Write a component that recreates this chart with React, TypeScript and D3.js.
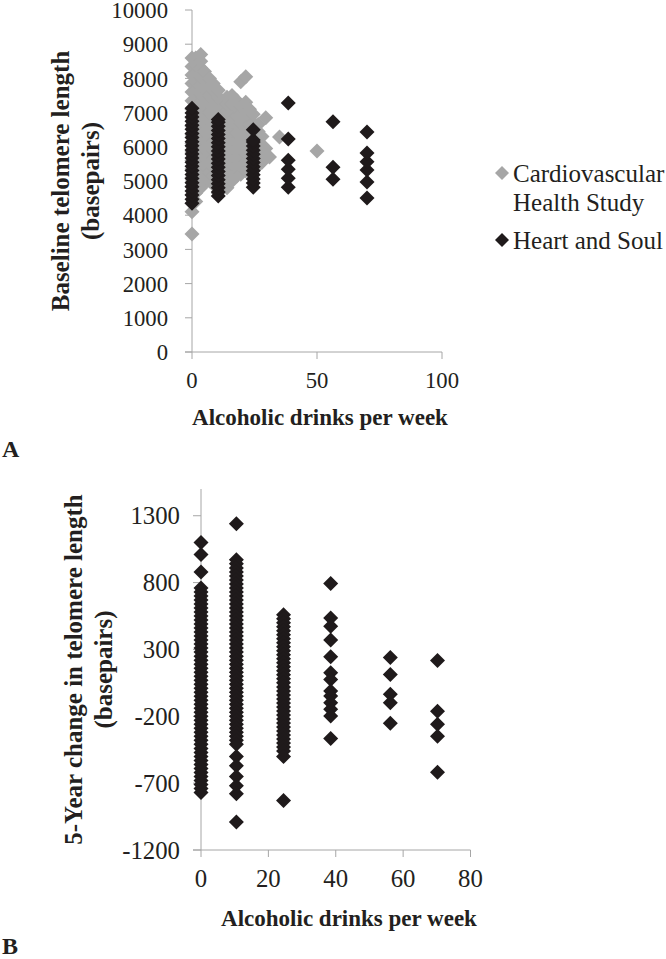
import React from 'react';
import * as d3 from 'd3';

// ---------- DATA ----------
// Panel A: baseline telomere length (bp) vs alcoholic drinks/week
const chsColumns: [number, number[]][] = [
  [0, [3450, 4100, 4350, 4600, 4850, 5100, 5350, 5600, 5850, 6100, 6350, 6600, 6850, 7100, 7350, 7600, 7850, 8100, 8350, 8600]],
  [1.5, [4400, 4650, 4900, 5150, 5400, 5650, 5900, 6150, 6400, 6650, 6900, 7150, 7400, 7650, 7900, 8150, 8400, 8600]],
  [3.5, [4800, 5050, 5300, 5550, 5800, 6050, 6300, 6550, 6800, 7050, 7300, 7550, 7800, 8050, 8300, 8500, 8700]],
  [5, [4950, 5200, 5450, 5700, 5950, 6200, 6450, 6700, 6950, 7200, 7450, 7700, 7950, 8200]],
  [7, [5000, 5250, 5500, 5750, 6000, 6250, 6500, 6750, 7000, 7250, 7500, 7750, 8000]],
  [8.5, [4900, 5150, 5400, 5650, 5900, 6150, 6400, 6650, 6900, 7150, 7400, 7650, 7850]],
  [10.5, [4650, 7000, 7250, 7450, 7650]],
  [12, [4850, 5100, 5350, 5600, 5850, 6100, 6350, 6600, 6850, 7100, 7350]],
  [14, [4800, 5050, 5300, 5550, 5800, 6050, 6300, 6550, 6800, 7050, 7250, 7450]],
  [16, [5000, 5250, 5500, 5750, 6000, 6250, 6500, 6750, 7000, 7250, 7500]],
  [18, [5150, 5400, 5650, 5900, 6150, 6400, 6650, 6900, 7150, 7350]],
  [19.5, [5200, 5450, 5700, 5950, 6200, 6450, 6700, 6950, 7200, 7900]],
  [21.5, [5300, 5550, 5800, 6050, 6300, 6550, 6800, 7050, 7300, 8050]],
  [23, [5400, 5650, 5900, 6150, 6400, 6650, 6900, 7100]],
  [24.5, [5500, 5750, 6000, 6250, 6700, 6950]],
  [26.5, [5450, 5700, 5950, 6200, 6450, 6650]],
  [28, [5550, 5800, 6050, 6300]],
  [29.5, [5700, 5950, 6850]],
  [31, [5700]],
  [35, [6290]],
  [50, [5880]],
];

const hsBaselineColumns: [number, number[]][] = [
  [0, [4350, 4470, 4590, 4710, 4830, 4950, 5070, 5190, 5310, 5430, 5550, 5670, 5790, 5910, 6030, 6150, 6270, 6390, 6510, 6630, 6750, 6870, 6990, 7130]],
  [10.5, [4560, 4680, 4800, 4920, 5040, 5160, 5280, 5400, 5520, 5640, 5760, 5880, 6000, 6120, 6240, 6360, 6480, 6600, 6720, 6800]],
  [24.5, [4820, 4940, 5060, 5180, 5300, 5420, 5540, 5660, 5780, 5900, 6020, 6140, 6200, 6500]],
  [38.5, [4820, 5080, 5340, 5610, 6230, 7280]],
  [56.4, [5050, 5400, 6730]],
  [70, [4500, 4970, 5320, 5560, 5820, 6430]],
];

// Panel B: 5-year change in telomere length (bp) vs drinks/week
const hsChangeColumns: [number, number[]][] = [
  [0, [1100, 1010, 880, 760, 730, 700, 670, 640, 610, 580, 550, 520, 490, 460, 430, 400, 370, 340, 310, 280, 250, 220, 190, 160, 130, 100, 70, 40, 10, -20, -50, -80, -110, -140, -170, -200, -230, -260, -290, -320, -350, -380, -410, -440, -470, -500, -530, -560, -590, -620, -650, -680, -710, -740, -770]],
  [10.5, [1240, 970, 940, 910, 880, 850, 820, 790, 760, 730, 700, 670, 640, 610, 580, 550, 520, 490, 460, 430, 400, 370, 340, 310, 280, 250, 220, 190, 160, 130, 100, 70, 40, 10, -20, -50, -80, -110, -140, -170, -200, -230, -260, -290, -320, -350, -380, -410, -500, -570, -650, -720, -780, -990]],
  [24.5, [560, 530, 500, 470, 440, 410, 380, 350, 320, 290, 260, 230, 200, 170, 140, 110, 80, 50, 20, -10, -40, -70, -100, -130, -160, -190, -220, -250, -280, -310, -340, -370, -400, -430, -460, -500, -830]],
  [38.5, [793, 536, 474, 370, 245, 126, 76, -11, -49, -98, -148, -198, -367]],
  [56.2, [240, 113, -36, -98, -252]],
  [70.2, [218, -163, -260, -349, -618]],
];

const xTicksA = [0, 50, 100];
const yTicksA = [0, 1000, 2000, 3000, 4000, 5000, 6000, 7000, 8000, 9000, 10000];
const xTicksB = [0, 20, 40, 60, 80];
const yTicksB = [-1200, -700, -200, 300, 800, 1300];

const legendItems = [
  { lines: ['Cardiovascular', 'Health Study'], color: '#a6a6a6' },
  { lines: ['Heart and Soul'], color: '#1f1a1b' },
];

// ---------- STYLE ----------
const FONT = '"Liberation Serif", "Times New Roman", serif';
const TEXT = '#231f20';
const AXIS = '#a6a6a6';
const GRAY = '#a6a6a6';
const BLACK = '#1f1a1b';
const R = 7.5;

const diamond = (cx: number, cy: number, r: number) =>
  `M${cx},${cy - r}L${cx + r},${cy}L${cx},${cy + r}L${cx - r},${cy}Z`;

function flatten(cols: [number, number[]][]) {
  const out: { x: number; y: number }[] = [];
  cols.forEach(([x, ys]) => ys.forEach((y) => out.push({ x, y })));
  return out;
}

export default function App() {
  const xA = d3.scaleLinear().domain([0, 100]).range([192, 442]);
  const yA = d3.scaleLinear().domain([0, 10000]).range([352, 10]);
  const xB = d3.scaleLinear().domain([0, 80]).range([201, 470.5]);
  const yB = d3.scaleLinear().domain([-1200, 1500]).range([850, 489]);

  const chs = flatten(chsColumns);
  const hsA = flatten(hsBaselineColumns);
  const hsB = flatten(hsChangeColumns);

  return (
    <svg
      width={666}
      height={959}
      style={{ position: 'absolute', left: 0, top: 0, background: '#fff' }}
      fontFamily={FONT}
    >
      <rect width={666} height={959} fill="#fff" />
      {/* ---------- Panel A ---------- */}
      <g>
        <line x1={xA(0)} x2={xA(0)} y1={yA(10000)} y2={yA(0)} stroke={AXIS} strokeWidth={1} />
        <line x1={xA(0) - 7} x2={xA(100)} y1={yA(0)} y2={yA(0)} stroke={AXIS} strokeWidth={1} />
        {yTicksA.map((t) => (
          <g key={t}>
            <line x1={xA(0) - 7} x2={xA(0)} y1={yA(t)} y2={yA(t)} stroke={AXIS} />
            <text x={xA(0) - 24} y={yA(t)} dy="0.36em" textAnchor="end" fontSize={22.7} fill={TEXT}>
              {t}
            </text>
          </g>
        ))}
        {xTicksA.map((t) => (
          <g key={t}>
            <line x1={xA(t)} x2={xA(t)} y1={yA(0)} y2={yA(0) + 7} stroke={AXIS} />
            <text x={xA(t)} y={yA(0) + 36} textAnchor="middle" fontSize={22.7} fill={TEXT}>
              {t}
            </text>
          </g>
        ))}
        {chs.map((d, i) => (
          <path key={'g' + i} d={diamond(xA(d.x), yA(d.y), R)} fill={GRAY} />
        ))}
        {hsA.map((d, i) => (
          <path key={'b' + i} d={diamond(xA(d.x), yA(d.y), R)} fill={BLACK} />
        ))}
        <text x={320} y={425} textAnchor="middle" fontSize={23} fontWeight="bold" fill={TEXT}>
          Alcoholic drinks per week
        </text>
        <g transform={`translate(60, ${(yA(0) + yA(10000)) / 2}) rotate(-90)`}>
          <text x={0} y={0} dy="0.35em" textAnchor="middle" fontSize={25} fontWeight="bold" fill={TEXT}>
            Baseline telomere length
          </text>
        </g>
        <g transform={`translate(90, ${(yA(0) + yA(10000)) / 2}) rotate(-90)`}>
          <text x={0} y={0} dy="0.35em" textAnchor="middle" fontSize={25} fontWeight="bold" fill={TEXT}>
            (basepairs)
          </text>
        </g>
        <text x={2} y={457} fontSize={24} fontWeight="bold" fill={TEXT}>
          A
        </text>
        {/* legend */}
        {legendItems.map((it, i) => {
          const cy = i === 0 ? 173 : 240;
          return (
            <g key={i}>
              <path d={diamond(502, cy, 7)} fill={it.color} />
              {it.lines.map((ln, j) => (
                <text key={j} x={513} y={cy + j * 29} dy="0.35em" fontSize={25} fill={TEXT}>
                  {ln}
                </text>
              ))}
            </g>
          );
        })}
      </g>

      {/* ---------- Panel B ---------- */}
      <g>
        <line x1={xB(0)} x2={xB(0)} y1={yB(1500)} y2={yB(-1200)} stroke={AXIS} strokeWidth={1} />
        <line x1={xB(0) - 8} x2={xB(80)} y1={yB(-1200)} y2={yB(-1200)} stroke={AXIS} strokeWidth={1} />
        {yTicksB.map((t) => (
          <g key={t}>
            <line x1={xB(0) - 8} x2={xB(0)} y1={yB(t)} y2={yB(t)} stroke={AXIS} />
            <text x={xB(0) - 21} y={yB(t)} dy="0.35em" textAnchor="end" fontSize={24.8} fill={TEXT}>
              {t}
            </text>
          </g>
        ))}
        {xTicksB.map((t) => (
          <g key={t}>
            <line x1={xB(t)} x2={xB(t)} y1={yB(-1200)} y2={yB(-1200) + 7} stroke={AXIS} />
            <text x={xB(t)} y={yB(-1200) + 37} textAnchor="middle" fontSize={24.8} fill={TEXT}>
              {t}
            </text>
          </g>
        ))}
        {hsB.map((d, i) => (
          <path key={'c' + i} d={diamond(xB(d.x), yB(d.y), R)} fill={BLACK} />
        ))}
        <text x={349} y={926} textAnchor="middle" fontSize={23} fontWeight="bold" fill={TEXT}>
          Alcoholic drinks per week
        </text>
        <g transform={`translate(73, ${(yB(1500) + yB(-1200)) / 2}) rotate(-90)`}>
          <text x={0} y={0} dy="0.35em" textAnchor="middle" fontSize={25} fontWeight="bold" fill={TEXT}>
            5-Year change in telomere length
          </text>
        </g>
        <g transform={`translate(103, ${(yB(1500) + yB(-1200)) / 2}) rotate(-90)`}>
          <text x={0} y={0} dy="0.35em" textAnchor="middle" fontSize={25} fontWeight="bold" fill={TEXT}>
            (basepairs)
          </text>
        </g>
        <text x={2} y={954} fontSize={24} fontWeight="bold" fill={TEXT}>
          B
        </text>
      </g>
    </svg>
  );
}
